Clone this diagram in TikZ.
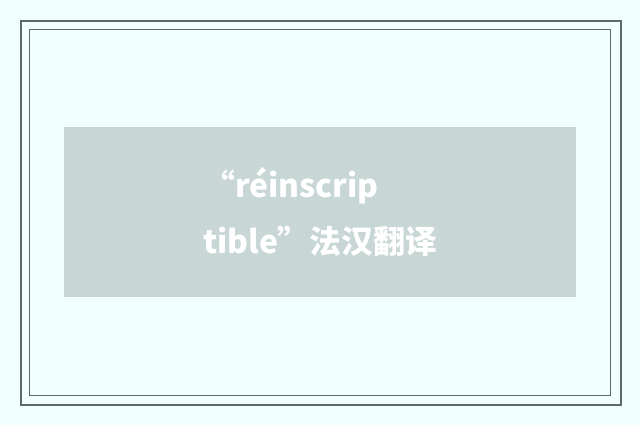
\documentclass[tikz,border=0pt]{standalone}
\usepackage{fontspec}
\usepackage{xcolor}
\newfontfamily\cjk{Noto Sans CJK SC}
\definecolor{bgcyan}{HTML}{F2FFFF}
\definecolor{bannergray}{HTML}{C8D6D6}
\definecolor{framegray}{HTML}{5B6B6B}

\begin{document}
\begin{tikzpicture}[x=1pt,y=-1pt,
    frame/.style={draw=framegray},
    title/.style={text=white,font=\cjk\bfseries\fontsize{31.8}{56}\selectfont,inner sep=0pt,anchor=base west}]
        \fill[bgcyan] (0,0) rectangle (640,425);
        \useasboundingbox (0,0) rectangle (640,425);
        \draw[frame,line width=2pt] (21,21) rectangle (620.5,404.5);
        \draw[frame,line width=1pt] (29.5,29.5) rectangle (610.5,395.5);
        \fill[bannergray] (64,127) rectangle (576,297);

        \node[title] (line1) at (203,197) {“réinscrip};
        \node[title] (line2) at (203,253) {tible”法汉翻译};
      \end{tikzpicture}
\end{document}
